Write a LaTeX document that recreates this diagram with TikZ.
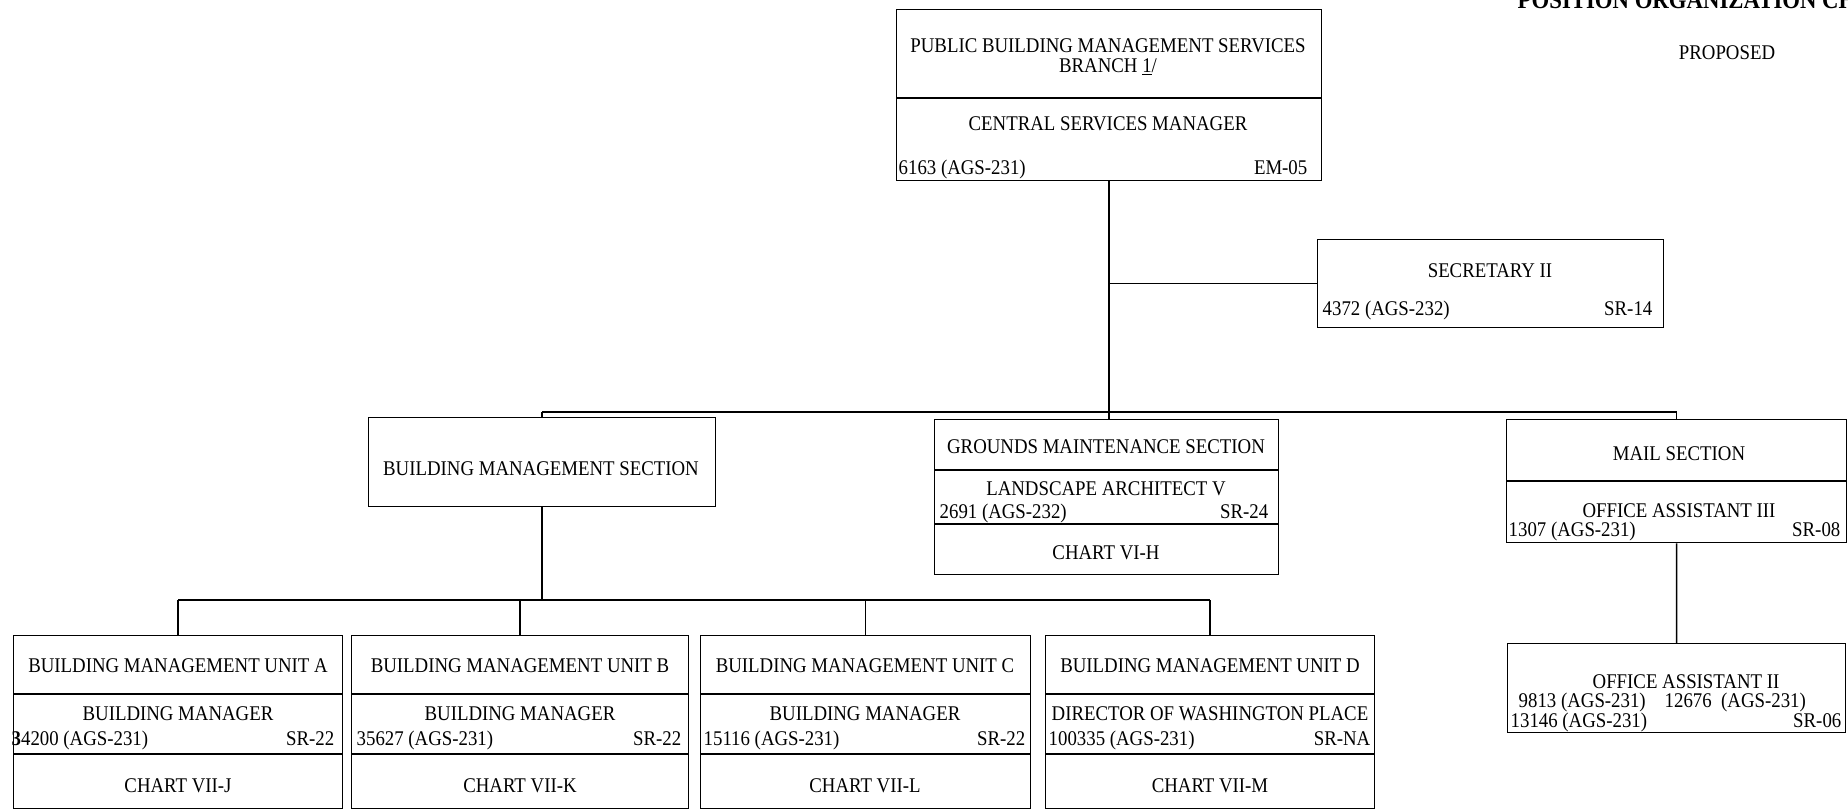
\documentclass[tikz,border=0pt]{standalone}
\usepackage{fontspec}
\setmainfont{Liberation Serif}[FakeStretch=0.9]
\usetikzlibrary{positioning,calc}
\tikzset{every picture/.style={line width=0.8pt}}
\tikzset{
  orgbox/.style={draw, rectangle, inner sep=0pt, anchor=north west},
  lbl/.style={inner sep=0pt, anchor=base, font=\fontsize{11.9}{13}\selectfont},
  lblL/.style={lbl, anchor=base west},
  lblR/.style={lbl, anchor=base east},
}

\begin{document}
\begin{tikzpicture}[x=0.02cm, y=-0.02cm]
    \useasboundingbox (0,0) rectangle (1848,809);
    % heading
    \node[lblL, font=\fontsize{14.4}{16}\selectfont\bfseries] (heading) at (1517,8) {POSITION ORGANIZATION CHART};
    \node[lbl] (proposed) at (1727,59) {PROPOSED};

    % branch
    \node[orgbox, minimum width=8.5cm, minimum height=3.42cm] (pbms) at (896,9) {};
    \draw (pbms.west |- 0,98) -- (pbms.east |- 0,98);
    \node[lbl] (pbmsT1) at (1108,52) {PUBLIC BUILDING MANAGEMENT SERVICES};
    \node[lbl] (pbmsT2) at (1108,72) {BRANCH \underline{1}/};
    \node[lbl] (pbmsT3) at (1108,130) {CENTRAL SERVICES MANAGER};
    \node[lblL] (pbmsN) at (898,174) {6163 (AGS-231)};
    \node[lblR] (pbmsG) at (1308,174) {EM-05};

    % secretary
    \node[orgbox, minimum width=6.92cm, minimum height=1.76cm] (sec) at (1317,239) {};
    \node[lbl] (secT) at (1490,277) {SECRETARY II};
    \node[lblL] (secN) at (1322,315) {4372 (AGS-232)};
    \node[lblR] (secG) at (1653,315) {SR-14};

    % sections
    \node[orgbox, minimum width=6.94cm, minimum height=1.78cm] (bms) at (368,417) {};
    \node[lbl] (bmsT) at (541,475) {BUILDING MANAGEMENT SECTION};

    \node[orgbox, minimum width=6.88cm, minimum height=3.1cm] (gms) at (934,419) {};
    \draw (gms.west |- 0,470) -- (gms.east |- 0,470);
    \draw (gms.west |- 0,524) -- (gms.east |- 0,524);
    \node[lbl] (gmsT1) at (1106,453) {GROUNDS MAINTENANCE SECTION};
    \node[lbl] (gmsT2) at (1106,495) {LANDSCAPE ARCHITECT V};
    \node[lblL] (gmsN) at (939,518) {2691 (AGS-232)};
    \node[lblR] (gmsG) at (1269,518) {SR-24};
    \node[lbl] (gmsC) at (1106,559) {CHART VI-H};

    \node[orgbox, minimum width=6.8cm, minimum height=2.46cm] (mail) at (1506,419) {};
    \draw (mail.west |- 0,481) -- (mail.east |- 0,481);
    \node[lbl] (mailT1) at (1679,460) {MAIL SECTION};
    \node[lbl] (mailT2) at (1679,517) {OFFICE ASSISTANT III};
    \node[lblL] (mailN) at (1508,536) {1307 (AGS-231)};
    \node[lblR] (mailG) at (1841,536) {SR-08};

    \node[orgbox, minimum width=6.76cm, minimum height=1.78cm] (oa2) at (1507,643) {};
    \node[lbl] (oa2T) at (1686,688) {OFFICE ASSISTANT II};
    \node[lblL] (oa2N1) at (1518,707) {9813 (AGS-231)};
    \node[lblL] (oa2N2) at (1664,707) {12676\ \ (AGS-231)};
    \node[lblL] (oa2N3) at (1510,727) {13146 (AGS-231)};
    \node[lblR] (oa2G) at (1842,727) {SR-06};

    % units
    \node[orgbox, minimum width=6.58cm, minimum height=3.46cm] (unitA) at (13,635) {};
    \draw (unitA.west |- 0,694) -- (unitA.east |- 0,694);
    \draw (unitA.west |- 0,754) -- (unitA.east |- 0,754);
    \node[lbl] (unitAT1) at (178,672) {BUILDING MANAGEMENT UNIT A};
    \node[lbl] (unitAT2) at (178,720) {BUILDING MANAGER};
    \node[lblL] (unitAN) at (11,745) {\textbf{3}4200 (AGS-231)};
    \node[lblR] (unitAG) at (335,745) {SR-22};
    \node[lbl] (unitAC) at (178,792) {CHART VII-J};

    \node[orgbox, minimum width=6.74cm, minimum height=3.46cm] (unitB) at (351,635) {};
    \draw (unitB.west |- 0,694) -- (unitB.east |- 0,694);
    \draw (unitB.west |- 0,754) -- (unitB.east |- 0,754);
    \node[lbl] (unitBT1) at (520,672) {BUILDING MANAGEMENT UNIT B};
    \node[lbl] (unitBT2) at (520,720) {BUILDING MANAGER};
    \node[lblL] (unitBN) at (356,745) {35627 (AGS-231)};
    \node[lblR] (unitBG) at (682,745) {SR-22};
    \node[lbl] (unitBC) at (520,792) {CHART VII-K};

    \node[orgbox, minimum width=6.6cm, minimum height=3.46cm] (unitC) at (700,635) {};
    \draw (unitC.west |- 0,694) -- (unitC.east |- 0,694);
    \draw (unitC.west |- 0,754) -- (unitC.east |- 0,754);
    \node[lbl] (unitCT1) at (865,672) {BUILDING MANAGEMENT UNIT C};
    \node[lbl] (unitCT2) at (865,720) {BUILDING MANAGER};
    \node[lblL] (unitCN) at (703,745) {15116 (AGS-231)};
    \node[lblR] (unitCG) at (1026,745) {SR-22};
    \node[lbl] (unitCC) at (865,792) {CHART VII-L};

    \node[orgbox, minimum width=6.58cm, minimum height=3.46cm] (unitD) at (1045,635) {};
    \draw (unitD.west |- 0,694) -- (unitD.east |- 0,694);
    \draw (unitD.west |- 0,754) -- (unitD.east |- 0,754);
    \node[lbl] (unitDT1) at (1210,672) {BUILDING MANAGEMENT UNIT D};
    \node[lbl] (unitDT2) at (1210,720) {DIRECTOR OF WASHINGTON PLACE};
    \node[lblL] (unitDN) at (1048,745) {100335 (AGS-231)};
    \node[lblR] (unitDG) at (1371,745) {SR-NA};
    \node[lbl] (unitDC) at (1210,792) {CHART VII-M};

    % connectors
    \coordinate (topbar) at (0,412);
    \coordinate (lowbar) at (0,600);
    \draw (pbms.south) -- (pbms.south |- gms.north);
    \draw (pbms.south |- sec.west) -- (sec.west);
    \draw (bms.north |- topbar) -- (mail.north |- topbar);
    \draw (bms.north |- topbar) -- (bms.north);
    \draw (mail.north |- topbar) -- (mail.north);
    \draw (mail.south) -- (oa2.north);
    \draw (bms.south) -- (bms.south |- lowbar);
    \draw (unitA.north |- lowbar) -- (unitD.north |- lowbar);
    \draw (unitA.north |- lowbar) -- (unitA.north);
    \draw (unitB.north |- lowbar) -- (unitB.north);
    \draw (unitC.north |- lowbar) -- (unitC.north);
    \draw (unitD.north |- lowbar) -- (unitD.north);
\end{tikzpicture}
\end{document}
